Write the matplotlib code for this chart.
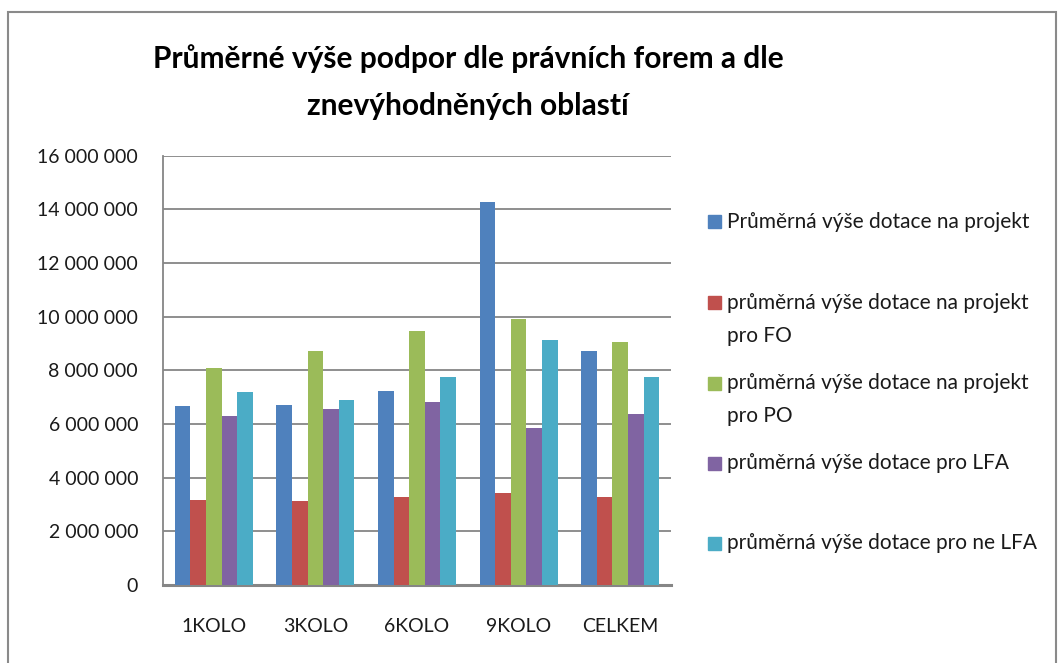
import numpy as np
import matplotlib.pyplot as plt
from matplotlib.patches import Rectangle
from matplotlib.ticker import FuncFormatter

plt.rcParams['font.family'] = ['Lato', 'DejaVu Sans']

# --- Data ---
categories = ['1KOLO', '3KOLO', '6KOLO', '9KOLO', 'CELKEM']
series_names = [
    'Průměrná výše dotace na projekt',
    'průměrná výše dotace na projekt\npro FO',
    'průměrná výše dotace na projekt\npro PO',
    'průměrná výše dotace pro LFA',
    'průměrná výše dotace pro ne LFA',
]
prumer_projekt = [6670000, 6710000, 7230000, 14290000, 8720000]
prumer_fo = [3150000, 3110000, 3260000, 3440000, 3260000]
prumer_po = [8090000, 8720000, 9460000, 9920000, 9050000]
prumer_lfa = [6300000, 6560000, 6820000, 5860000, 6380000]
prumer_ne_lfa = [7190000, 6900000, 7750000, 9130000, 7750000]
series = [prumer_projekt, prumer_fo, prumer_po, prumer_lfa, prumer_ne_lfa]

colors = ['#4F81BD', '#C0504D', '#9BBB59', '#8064A2', '#4BACC6']
text_color = '#1a1a1a'

fig = plt.figure(figsize=(10.6, 6.63), dpi=100)
ax = fig.add_axes([0.1538, 0.118, 0.4792, 0.647])

# --- Bars ---
n = len(series)
width = 0.1535
x = np.arange(len(categories))
for i, vals in enumerate(series):
    ax.bar(x + (i - (n - 1) / 2) * width, vals, width, color=colors[i],
           edgecolor='none', zorder=3)

ax.set_xlim(-0.5, len(categories) - 0.5)
ax.set_ylim(0, 16000000)
ax.set_yticks(np.arange(0, 16000001, 2000000))
ax.yaxis.set_major_formatter(FuncFormatter(lambda v, p: f'{int(v):,}'.replace(',', ' ')))
ax.set_xticks(x)
ax.set_xticklabels(categories)

ax.grid(axis='y', color='#868686', linewidth=1.3, zorder=0)
for s in ['top', 'right']:
    ax.spines[s].set_visible(False)
ax.spines['left'].set_color('#868686')
ax.spines['left'].set_linewidth(1.3)
ax.spines['bottom'].set_color('#868686')
ax.spines['bottom'].set_linewidth(2.2)
ax.tick_params(axis='y', length=0, pad=18, labelsize=14, labelcolor=text_color)
ax.tick_params(axis='x', length=0, pad=24, labelsize=14, labelcolor=text_color)

# --- Title ---
fig.text(0.4415, 0.912, 'Průměrné výše podpor dle právních forem a dle',
         ha='center', va='center', fontsize=21.5, fontweight='bold', color='black')
fig.text(0.4415, 0.840, 'znevýhodněných oblastí',
         ha='center', va='center', fontsize=21.5, fontweight='bold', color='black')

# --- Legend (manual, Excel-like layout) ---
legend_y = [222, 303, 383, 463, 543]
for name, col, yy in zip(series_names, colors, legend_y):
    yf = 1 - yy / 663
    fig.patches.append(Rectangle((708 / 1060, yf - 6.5 / 663), 13 / 1060, 13 / 663,
                                 transform=fig.transFigure, color=col))
    fig.text(727 / 1060, yf + 10 / 663, name, ha='left', va='top', fontsize=15,
             color=text_color, linespacing=1.8)

# --- Outer chart frame ---
fig.patches.append(Rectangle((8 / 1060, -0.05), 1048 / 1060, 1.05 - 12 / 663,
                             transform=fig.transFigure, fill=False,
                             edgecolor='#8a8a8a', linewidth=1.5))

fig.savefig('out.png', dpi=100)
